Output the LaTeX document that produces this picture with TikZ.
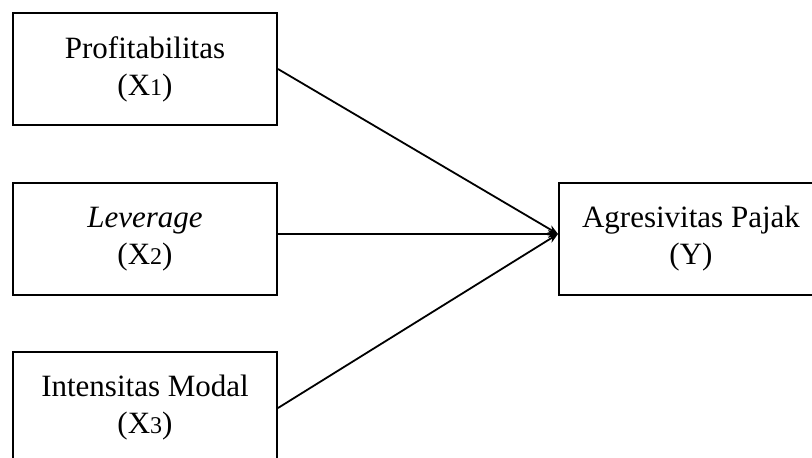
\documentclass[tikz,border=0pt]{standalone}
\usepackage{fontspec}
\setmainfont{Liberation Serif}
\usetikzlibrary{arrows.meta}
\newcommand{\dg}[1]{{\fontsize{24}{24}\selectfont #1}}
\begin{document}
\begin{tikzpicture}[x=1pt,y=-1pt,
  box/.style={draw, line width=2pt, rectangle, minimum width=264pt, minimum height=112pt, inner sep=0pt, anchor=north west, align=center, font=\fontsize{31}{37}\selectfont},
  conn/.style={line width=1.8pt, -{Stealth[length=10pt,width=8pt]}}]
\clip (0,0) rectangle (812,458);
\node[box] (x1) at (12,12) {Profitabilitas\\(X\dg{1})};
\node[box] (x2) at (12,182) {\textit{Leverage}\\(X\dg{2})};
\node[box] (x3) at (12,351) {Intensitas Modal\\(X\dg{3})};
\node[box] (y) at (558,182) {Agresivitas Pajak\\(Y)};
\coordinate (tip) at ([yshift=5pt]y.west);
\draw[conn] (x1.east) -- (tip);
\draw[conn] ([yshift=5pt]x2.east) -- (tip);
\draw[conn] (x3.east) -- (tip);
\end{tikzpicture}
\end{document}
